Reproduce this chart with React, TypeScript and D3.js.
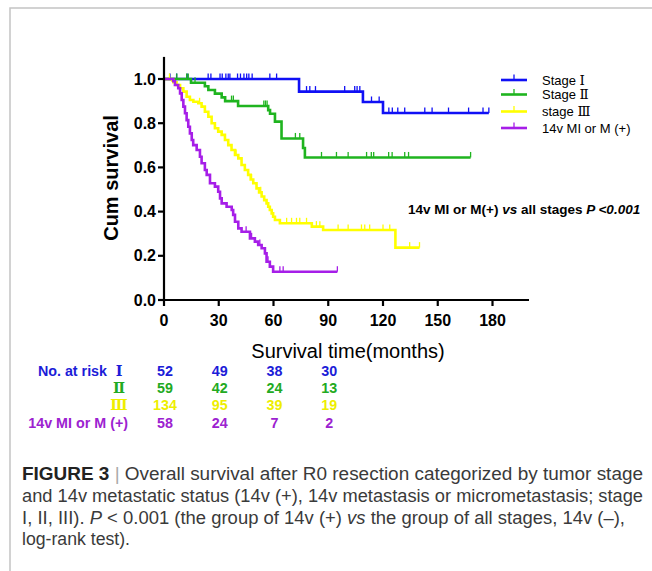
import React from 'react'
import * as d3 from 'd3'

// survival steps: [month, survival after the drop]
const stage1Steps: [number, number][] = [[74, 0.943], [109, 0.896], [120, 0.846]]
const stage1End = 178
const stage1Censor = [3.3, 6.9, 12.7, 24.2, 25.7, 30.7, 31.9, 33.9, 35.2, 36.1, 40.3, 41.9, 43.8, 45.3, 46.5, 48.3, 58, 61.7, 78.1, 79.9, 83, 99, 104.5, 105.8, 107.3, 113.7, 117.9, 123.2, 125.1, 128.1, 131.9, 142.9, 146.9, 155.9, 166.9, 174.8, 178]

const stage2Steps: [number, number][] = [[14.8, 0.983], [22.4, 0.967], [24.3, 0.95], [27.9, 0.934], [31.6, 0.917], [33.5, 0.9], [40.6, 0.878], [57.1, 0.859], [58.1, 0.843], [60.8, 0.807], [64.4, 0.731], [76.2, 0.688], [77.2, 0.645]]
const stage2End = 168
const stage2Censor = [7, 12.4, 13.3, 17, 37, 38, 54.7, 55.6, 56.5, 72, 74.4, 86.3, 94.5, 100.9, 111, 113.6, 114.9, 123.1, 125, 131.9, 134, 168]

const stage3Steps: [number, number][] = [[4.5, 0.993], [5.1, 0.985], [6.9, 0.973], [8.8, 0.958], [10.6, 0.943], [12.4, 0.92], [14.2, 0.905], [16.1, 0.897], [18.8, 0.89], [20.6, 0.875], [22.4, 0.852], [24.3, 0.829], [26.1, 0.8], [27.9, 0.777], [29.7, 0.762], [31.6, 0.747], [33.4, 0.724], [35.2, 0.701], [37, 0.679], [38.9, 0.656], [40.7, 0.641], [42.5, 0.611], [44.3, 0.588], [46.1, 0.566], [47.5, 0.545], [48.9, 0.528], [50.7, 0.505], [52.1, 0.487], [53.5, 0.468], [54.9, 0.452], [56.2, 0.437], [57.1, 0.422], [58, 0.407], [59, 0.392], [59.8, 0.377], [60.8, 0.362], [63.5, 0.347], [81, 0.332], [87.2, 0.317], [126.8, 0.237]]
const stage3End = 140
const stage3Censor = [3, 19.5, 39.5, 48, 53, 67.2, 69.9, 72.6, 74.4, 78.1, 83.5, 85.4, 95.4, 100.9, 108.2, 110, 112.7, 120, 123.7, 134.6, 140]

const m14vSteps: [number, number][] = [[5.1, 0.99], [6, 0.973], [7.8, 0.958], [8.8, 0.935], [9.7, 0.905], [10.6, 0.875], [11.5, 0.845], [12.4, 0.814], [13.3, 0.784], [14.2, 0.754], [15.2, 0.724], [16, 0.701], [17.9, 0.679], [19.7, 0.648], [20.6, 0.619], [22.4, 0.588], [23.4, 0.566], [25.2, 0.528], [27.9, 0.513], [29.7, 0.49], [30.7, 0.46], [31.6, 0.437], [34.3, 0.422], [37.1, 0.407], [37.9, 0.385], [38.9, 0.354], [40.7, 0.324], [42.5, 0.309], [47.1, 0.279], [49.8, 0.264], [51.6, 0.249], [53.5, 0.234], [55.3, 0.211], [56.2, 0.173], [58, 0.151], [59.8, 0.128]]
const m14vEnd = 95
const m14vCensor = [45, 48, 52.5, 57, 63.5, 65.3, 95]

const legendNames = ['Stage ', 'Stage ', 'stage ', '14v MI or M (+)']
const legendNumerals = ['Ⅰ', 'Ⅱ', 'Ⅲ', '']
const riskTimes = [0, 30, 60, 90]
const riskStage1 = [52, 49, 38, 30]
const riskStage2 = [59, 42, 24, 13]
const riskStage3 = [134, 95, 39, 19]
const riskM14v = [58, 24, 7, 2]
const xTicks = [0, 30, 60, 90, 120, 150, 180]
const yTicks = [0, 0.2, 0.4, 0.6, 0.8, 1.0]

const groups = [
  { steps: stage1Steps, end: stage1End, censor: stage1Censor, color: '#1010f5', text: '#1c1cd8' },
  { steps: stage2Steps, end: stage2End, censor: stage2Censor, color: '#1fb41f', text: '#22aa22' },
  { steps: stage3Steps, end: stage3End, censor: stage3Censor, color: '#ffff00', text: '#eeee00' },
  { steps: m14vSteps, end: m14vEnd, censor: m14vCensor, color: '#a61ee8', text: '#9c22d0' },
]
const riskRows = [riskStage1, riskStage2, riskStage3, riskM14v]

const x = d3.scaleLinear().domain([0, 200]).range([164, 529])
const y = d3.scaleLinear().domain([0, 1.1]).range([300, 56.9])

const survAt = (steps: [number, number][], t: number) => {
  let s = 1
  steps.forEach(d => {
    if (d[0] <= t) s = d[1]
  })
  return s
}

const line = d3
  .line<[number, number]>()
  .x(d => x(d[0]))
  .y(d => y(d[1]))
  .curve(d3.curveStepAfter)

const AXIS_FONT = '"Liberation Sans", Arial, sans-serif'
const NUM_FONT = '"DejaVu Serif", "Noto Sans CJK SC", serif'

export default function App() {
  const legendY = [80, 94.5, 111.5, 128]
  const riskY = [371, 388, 405, 423]
  return (
    <svg width={652} height={571} style={{ position: 'absolute', left: 0, top: 0, background: '#fff' }}>
      {/* frame */}
      <path d="M10,571 V8 H652" fill="none" stroke="#c4c4c4" strokeWidth={1.5} />

      {/* curves */}
      {groups.map((g, i) => {
        const pts: [number, number][] = [[0, 1], ...g.steps]
        pts.push([g.end, g.steps[g.steps.length - 1][1]])
        return (
          <g key={i}>
            <path d={line(pts) || ''} fill="none" stroke={g.color} strokeWidth={2.6} />
            {g.censor.map((c, j) => (
              <line
                key={j}
                x1={x(c)}
                x2={x(c)}
                y1={y(survAt(g.steps, c))}
                y2={y(survAt(g.steps, c)) - 5.5}
                stroke={g.color}
                strokeWidth={1.3}
              />
            ))}
          </g>
        )
      })}

      {/* axes */}
      <g stroke="#000" strokeWidth={2.2} fill="none">
        <line x1={x(0)} x2={x(0)} y1={y(0) + 1} y2={y(1.1)} />
        <line x1={x(0) - 1} x2={x(200)} y1={y(0)} y2={y(0)} />
        {yTicks.map(t => (
          <line key={t} x1={x(0) - 6} x2={x(0)} y1={y(t)} y2={y(t)} />
        ))}
        {xTicks.map(t => (
          <line key={t} x1={x(t)} x2={x(t)} y1={y(0)} y2={y(0) + 6} />
        ))}
      </g>
      <g fontFamily={AXIS_FONT} fontWeight="bold" fontSize={16} fill="#000">
        {yTicks.map(t => (
          <text key={t} x={x(0) - 8} y={y(t)} textAnchor="end" dominantBaseline="central">
            {t.toFixed(1)}
          </text>
        ))}
        {xTicks.map(t => (
          <text key={t} x={x(t)} y={326} textAnchor="middle">
            {t}
          </text>
        ))}
      </g>
      <text
        transform="translate(118,178) rotate(-90)"
        textAnchor="middle"
        fontFamily={AXIS_FONT}
        fontWeight="bold"
        fontSize={20}
      >
        Cum survival
      </text>
      <text x={348} y={358} textAnchor="middle" fontFamily={AXIS_FONT} fontSize={20}>
        Survival time(months)
      </text>

      {/* legend */}
      {legendNames.map((l, i) => (
        <g key={i}>
          <line x1={501} x2={527} y1={legendY[i]} y2={legendY[i]} stroke={groups[i].color} strokeWidth={2.6} />
          <line x1={514} x2={514} y1={legendY[i]} y2={legendY[i] - 5.5} stroke={groups[i].color} strokeWidth={1.3} />
          <text x={542} y={legendY[i] + 4.5} fontFamily={AXIS_FONT} fontSize={13} fill="#000">
            {l}
            {legendNumerals[i] && <tspan fontFamily={NUM_FONT} fontSize={13.5}>{legendNumerals[i]}</tspan>}
          </text>
        </g>
      ))}

      <text x={408} y={214} fontFamily={AXIS_FONT} fontWeight="bold" fontSize={13.5} fill="#000">
        14v MI or M(+) <tspan fontStyle="italic">vs</tspan> all stages <tspan fontStyle="italic">P &lt;0.001</tspan>
      </text>

      {/* number at risk */}
      <g fontFamily={AXIS_FONT} fontWeight="bold" fontSize={14.3}>
        <text x={107} y={riskY[0] + 5} textAnchor="end" fill={groups[0].text}>
          No. at risk
        </text>
        {['Ⅰ', 'Ⅱ', 'Ⅲ'].map((r, i) => (
          <text key={r} x={119} y={riskY[i] + 5} textAnchor="middle" fontFamily={NUM_FONT} fill={groups[i].text}>
            {r}
          </text>
        ))}
        <text x={128} y={riskY[3] + 5} textAnchor="end" fill={groups[3].text}>
          14v MI or M (+)
        </text>
        {riskRows.map((row, i) =>
          row.map((n, j) => (
            <text key={i + '-' + j} x={x(riskTimes[j]) + 1} y={riskY[i] + 5} textAnchor="middle" fill={groups[i].text}>
              {n}
            </text>
          ))
        )}
      </g>

      {/* caption */}
      <g fontFamily={AXIS_FONT} fontSize={17.5} fill="#3a3a3a">
        <text x={22} y={480} textLength={621} lengthAdjust="spacingAndGlyphs">
          <tspan fontWeight="bold" fill="#222">FIGURE 3</tspan>
          <tspan fill="#aaa"> | </tspan>
          Overall survival after R0 resection categorized by tumor stage
        </text>
        <text x={22} y={502} textLength={621} lengthAdjust="spacingAndGlyphs">
          and 14v metastatic status (14v (+), 14v metastasis or micrometastasis; stage
        </text>
        <text x={22} y={523.5} textLength={603} lengthAdjust="spacingAndGlyphs">
          I, II, III). <tspan fontStyle="italic">P</tspan> &lt; 0.001 (the group of 14v (+) <tspan fontStyle="italic">vs</tspan> the group of all stages, 14v (–),
        </text>
        <text x={22} y={545} textLength={108} lengthAdjust="spacingAndGlyphs">
          log-rank test).
        </text>
      </g>
    </svg>
  )
}
